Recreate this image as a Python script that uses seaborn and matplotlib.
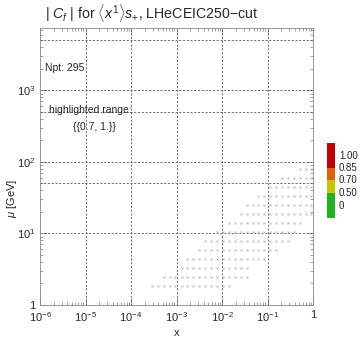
import math
import matplotlib
matplotlib.use("Agg")
import matplotlib.pyplot as plt
import matplotlib.ticker as mticker
import pandas as pd
import seaborn as sns

# ---------------------------------------------------
# data
# ---------------------------------------------------

# x positions of the point columns
x_grid = [2.9e-4, 3.9e-4, 5.2e-4, 7.1e-4, 9.5e-4, 1.3e-3, 1.7e-3, 2.3e-3,
          3.2e-3, 4.3e-3, 5.8e-3, 7.8e-3, 1.05e-2, 1.4e-2, 1.9e-2, 2.6e-2,
          3.5e-2, 4.7e-2, 6.3e-2, 8.5e-2, 0.115, 0.155, 0.21, 0.28,
          0.38, 0.51, 0.69, 0.89]

# mu of each row of points, and the first / last column used in that row
mu_rows = [1.85, 2.47, 3.29, 4.4, 5.87, 7.85, 10.5, 14.0, 18.7, 25.1, 33.4, 44.7, 59.7, 79.8]
row_first = [0, 2, 5, 6, 8, 9, 11, 13, 15, 16, 18, 20, 22, 25]
row_last = [13, 16, 16, 19, 21, 23, 24, 25, 27, 27, 27, 27, 27, 27]

# axis ticks and dashed grid lines
x_ticks = [1e-6, 1e-5, 1e-4, 1e-3, 1e-2, 1e-1, 1]
mu_ticks = [1, 10, 100, 1000]
x_lines = [1e-5, 1e-4, 1e-3, 1e-2, 1e-1]
mu_lines = [10, 50, 100, 500, 1000, 5000]

# colour scale
cbar_edges = [0.0, 0.333, 0.507, 0.667, 1.0]
cbar_colors = ["#1fb41f", "#c8c800", "#e0620a", "#c00000"]
cbar_labels = ["0", "0.50", "0.70", "0.85", "1.00"]
cbar_label_pos = [0.16, 0.333, 0.507, 0.667, 0.827]

rows = []
for mu, i0, i1 in zip(mu_rows, row_first, row_last):
    for x in x_grid[i0:i1 + 1]:
        rows.append({"x": x, "mu": mu})
df = pd.DataFrame(rows)

# ---------------------------------------------------
# plot
# ---------------------------------------------------
sns.set_style("ticks")
plt.rcParams["font.family"] = ["Liberation Sans", "DejaVu Sans"]
plt.rcParams["mathtext.fontset"] = "custom"
plt.rcParams["mathtext.rm"] = "Liberation Sans"
plt.rcParams["mathtext.it"] = "Liberation Sans:italic"

fig = plt.figure(figsize=(3.6, 3.41), dpi=100)
ax = fig.add_axes([40 / 360, 36 / 341, 273 / 360, 277 / 341])

for xv in x_lines:
    ax.axvline(xv, color="#555555", ls=(0, (2.5, 2)), lw=0.6, zorder=1)
for mv in mu_lines:
    ax.axhline(mv, color="#555555", ls=(0, (2.5, 2)), lw=0.6, zorder=1)

sns.scatterplot(data=df, x="x", y="mu", ax=ax, marker="x", s=2, linewidth=0.5,
                color="#b4b4b4", legend=False, zorder=3)

ax.set_xscale("log")
ax.set_yscale("log")
ax.set_xlim(1e-6, 1)
ax.set_ylim(1, 7400)


def fmt(v, pos):
    if abs(v - 1) < 1e-9:
        return "1"
    return r"$10^{%d}$" % int(round(math.log10(v)))


ax.xaxis.set_major_locator(mticker.FixedLocator(x_ticks))
ax.yaxis.set_major_locator(mticker.FixedLocator(mu_ticks))
ax.xaxis.set_major_formatter(mticker.FuncFormatter(fmt))
ax.yaxis.set_major_formatter(mticker.FuncFormatter(fmt))
ax.xaxis.set_minor_locator(mticker.LogLocator(base=10, subs=range(2, 10), numticks=20))
ax.yaxis.set_minor_locator(mticker.LogLocator(base=10, subs=range(2, 10), numticks=20))
ax.xaxis.set_minor_formatter(mticker.NullFormatter())
ax.yaxis.set_minor_formatter(mticker.NullFormatter())
ax.tick_params(which="both", direction="in", top=True, right=True, labelsize=8,
               color="#777777", width=0.5)
ax.tick_params(which="major", length=5)
ax.tick_params(which="minor", length=2.5)
for sp in ax.spines.values():
    sp.set_linewidth(0.6)
    sp.set_color("#888888")

ax.set_xlabel("x", fontsize=8, labelpad=3)
ax.set_ylabel("")
fig.text(12 / 360, 1 - 198 / 341, r"$\mu$ [GeV]", rotation=90, fontsize=8,
         ha="center", va="center")

ax.text(0.02, 0.855, "Npt: 295", transform=ax.transAxes, fontsize=7.5, va="center")
ax.text(0.183, 0.704, "highlighted range:", transform=ax.transAxes, fontsize=7.5,
        ha="center", va="center")
ax.text(0.20, 0.643, "{{0.7, 1.}}", transform=ax.transAxes, fontsize=7.5,
        ha="center", va="center")

fig.text(45 / 360, 1 - 13 / 341,
         r"| $C_f$ | for $\langle x^1\rangle s_{+}$, LHeCEIC250$-$cut",
         fontsize=10.2, ha="left", va="center")

# colour scale
cax = fig.add_axes([327 / 360, 123 / 341, 8 / 360, 75 / 341])
for lo, hi, c in zip(cbar_edges[:-1], cbar_edges[1:], cbar_colors):
    cax.bar([0], [hi - lo], bottom=lo, width=1, color=c, edgecolor="none")
cax.set_xlim(-0.5, 0.5)
cax.set_ylim(0, 1)
cax.set_xticks([])
cax.set_yticks([])
for sp in cax.spines.values():
    sp.set_visible(False)
for lab, p in zip(cbar_labels, cbar_label_pos):
    cax.text(1.5, p, lab, transform=cax.transAxes, fontsize=7, va="center", ha="left")

plt.savefig("out.png", dpi=100)
plt.close()
